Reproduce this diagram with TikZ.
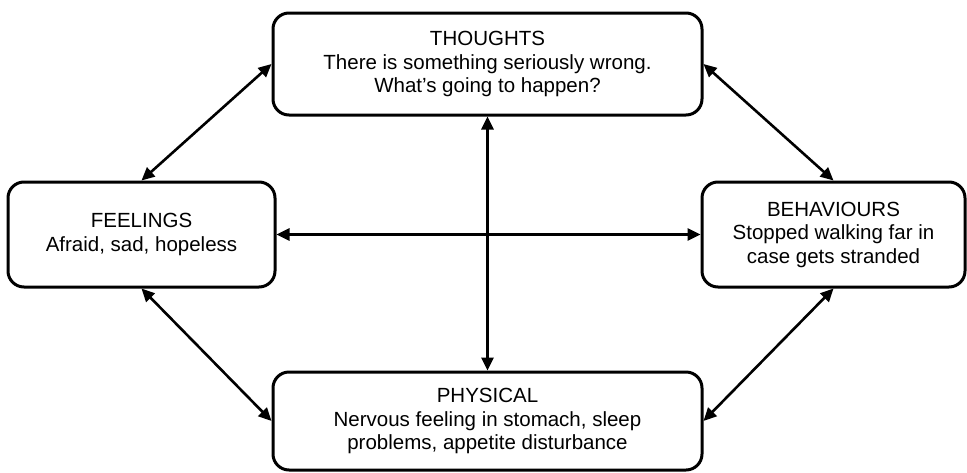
\documentclass[tikz,border=0pt]{standalone}
\usepackage{fontspec}
\setmainfont{Liberation Sans}
\usepackage{tikz}
\usetikzlibrary{arrows.meta,positioning}
\tikzstyle{box} = [draw, line width=3pt, rounded corners=16pt, align=center, font=\fontsize{20.5}{23.5}\selectfont]
\tikzstyle{link} = [line width=2.6pt, {Triangle[length=13pt,width=12pt]}-{Triangle[length=13pt,width=12pt]}]

\begin{document}
\begin{tikzpicture}[x=1pt,y=-1pt]
\useasboundingbox (0,0) rectangle (967,472);

\node[box, minimum width=429pt, minimum height=102pt] (thoughts) at (487.5,64) {THOUGHTS\\There is something seriously wrong.\\What’s going to happen?};
\node[box, minimum width=267pt, minimum height=105pt] (feelings) at (141.5,234.5) {FEELINGS\\Afraid, sad, hopeless};
\node[box, minimum width=263pt, minimum height=105pt] (behaviours) at (833.5,234.5) {BEHAVIOURS\\Stopped walking far in\\case gets stranded};
\node[box, minimum width=429pt, minimum height=98pt] (physical) at (487.5,421) {PHYSICAL\\Nervous feeling in stomach, sleep\\problems, appetite disturbance};

\draw [link] (thoughts.west) -- (feelings.north);
\draw [link] (thoughts.east) -- (behaviours.north);
\draw [link] (feelings.east) -- (behaviours.west);
\draw [link] (thoughts.south) -- (physical.north);
\draw [link] (feelings.south) -- (physical.west);
\draw [link] (behaviours.south) -- (physical.east);
\end{tikzpicture}
\end{document}
